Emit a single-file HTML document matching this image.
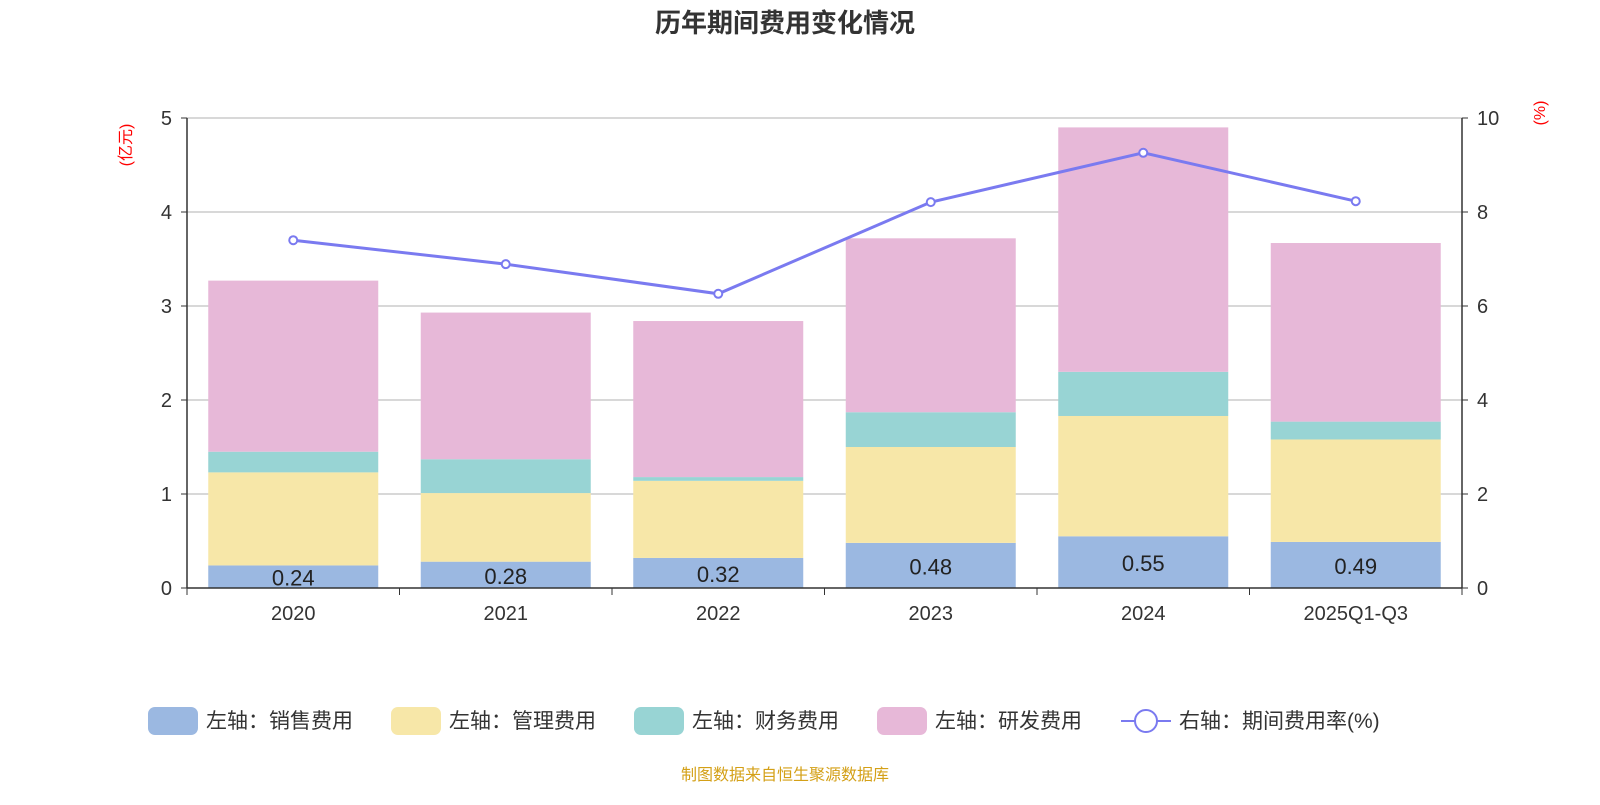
<!DOCTYPE html>
<html><head><meta charset="utf-8"><style>
body{margin:0;background:#fff;font-family:"Liberation Sans","Noto Sans CJK SC",sans-serif}
svg text{font-family:"Liberation Sans","Noto Sans CJK SC",sans-serif}
</style></head><body>
<svg id="c" width="1600" height="800" xmlns="http://www.w3.org/2000/svg">
<text x="785" y="32" text-anchor="middle" font-size="26" font-weight="bold" fill="#333">历年期间费用变化情况</text>
<text x="131" y="145" text-anchor="middle" font-size="16" fill="red" transform="rotate(-90 131 145)">(亿元)</text>
<text x="1545" y="113" text-anchor="middle" font-size="16" fill="red" transform="rotate(-90 1545 113)">(%)</text>
<g id="grid"></g><g id="bars"></g><g id="line"></g><g id="axes"></g>
<g id="legend"></g>
<text x="785" y="780" text-anchor="middle" font-size="16" fill="#d4a017">制图数据来自恒生聚源数据库</text>
</svg>
<script>
const categories=["2020","2021","2022","2023","2024","2025Q1-Q3"];
const sales=[0.24,0.28,0.32,0.48,0.55,0.49];
const mgmt=[0.99,0.73,0.82,1.02,1.28,1.09];
const fin=[0.22,0.36,0.04,0.37,0.47,0.19];
const rd=[1.82,1.56,1.66,1.85,2.60,1.90];
const rate=[7.40,6.89,6.26,8.21,9.26,8.23];
const leftTicks=[0,1,2,3,4,5];
const rightTicks=[0,2,4,6,8,10];
const NS="http://www.w3.org/2000/svg";
const X0=187,X1=1462,Y0=588,Y1=118;
const bw=(X1-X0)/categories.length;
const yL=v=>Y0-(Y0-Y1)*v/5, yR=v=>Y0-(Y0-Y1)*v/10, xC=i=>X0+bw*(i+0.5);
function mk(t,a,p){const e=document.createElementNS(NS,t);for(const k in a)e.setAttribute(k,a[k]);p.appendChild(e);return e;}
const G=id=>document.getElementById(id);
leftTicks.forEach((t,i)=>{
 const y=yL(t);
 if(t>0){const l=mk('line',{x1:X0,x2:X1,y1:y,y2:y,stroke:'#ccc','stroke-width':1.5},G('grid'));
 
 }
 const tx=mk('text',{x:172,y:y+7,'text-anchor':'end','font-size':20,fill:'#333'},G('axes'));tx.textContent=t;
 
 
 const tk=mk('line',{x1:X0-6,x2:X0,y1:y,y2:y,stroke:'#333'},G('axes'));
 
 
});
rightTicks.forEach(t=>{
 const y=yR(t);
 const tx=mk('text',{x:1477,y:y+7,'font-size':20,fill:'#333'},G('axes'));tx.textContent=t;
 
 
 const tk=mk('line',{x1:X1,x2:X1+6,y1:y,y2:y,stroke:'#333'},G('axes'));
 
 
});
[['line',{x1:X0,x2:X0,y1:Y1,y2:Y0}],['line',{x1:X1,x2:X1,y1:Y1,y2:Y0}],['line',{x1:X0,x2:X1,y1:Y0,y2:Y0}]].forEach(([t,a],k)=>{
 a.stroke='#333';a['stroke-width']=1.5;const e=mk(t,a,G('axes'));
 
 
});
for(let i=0;i<=categories.length;i++){
 const e=mk('line',{x1:X0+bw*i,x2:X0+bw*i,y1:Y0,y2:Y0+7,stroke:'#333'},G('axes'));
 
 
}
const series=[[sales,'#9bb8e1','sales'],[mgmt,'#f7e7a8','mgmt'],[fin,'#98d4d4','finance'],[rd,'#e7b8d8','rd']];
categories.forEach((c,i)=>{
 const tx=mk('text',{x:xC(i),y:620,'text-anchor':'middle','font-size':20,fill:'#333'},G('axes'));tx.textContent=c;
 
 
 let base=0;
 series.forEach(([arr,col,nm])=>{
  const v=arr[i];
  const r=mk('rect',{x:xC(i)-85,width:170,y:yL(base+v),height:yL(base)-yL(base+v),fill:col},G('bars'));
  
  
  base+=v;
 });
 const lb=mk('text',{x:xC(i),y:(yL(0)+yL(sales[i]))/2+9,'text-anchor':'middle','font-size':22,fill:'#222'},G('bars'));lb.textContent=sales[i].toFixed(2);
 
 
});
const pl=mk('polyline',{points:rate.map((v,i)=>xC(i)+','+yR(v)).join(' '),fill:'none',stroke:'#7a7af0','stroke-width':3},G('line'));


rate.forEach((v,i)=>{
 const c=mk('circle',{cx:xC(i),cy:yR(v),r:4,fill:'#fff',stroke:'#7a7af0','stroke-width':2},G('line'));
 
 
});
const leg=[['左轴：销售费用','#9bb8e1',148],['左轴：管理费用','#f7e7a8',391],['左轴：财务费用','#98d4d4',634],['左轴：研发费用','#e7b8d8',877]];
leg.forEach(([t,c,x])=>{
 const r=mk('rect',{x:x,y:707,width:50,height:28,rx:7,fill:c},G('legend'));
 
 
 const tx=mk('text',{x:x+58,y:728,'font-size':21,fill:'#333'},G('legend'));tx.textContent=t;
 
 
});
const ll=mk('line',{x1:1121,x2:1171,y1:721,y2:721,stroke:'#7a7af0','stroke-width':2},G('legend'));


const lc=mk('circle',{cx:1146,cy:721,r:11,fill:'#fff',stroke:'#7a7af0','stroke-width':2},G('legend'));


const lt=mk('text',{x:1179,y:728,'font-size':21,fill:'#333'},G('legend'));lt.textContent='右轴：期间费用率(%)';


</script>
</body></html>
